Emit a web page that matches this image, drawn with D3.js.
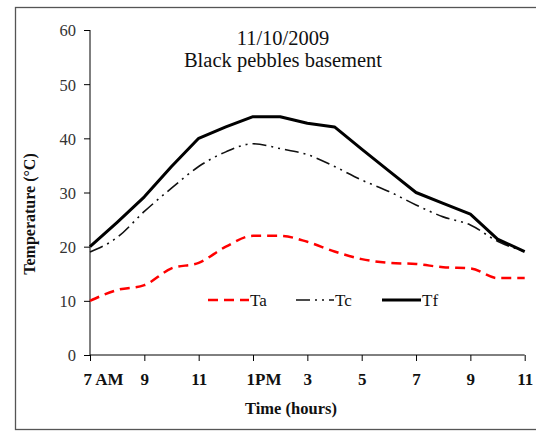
<!DOCTYPE html>
<html>
<head>
<meta charset="utf-8">
<script src="https://cdn.jsdelivr.net/npm/d3@7/dist/d3.min.js"></script>
<style>
html,body{margin:0;padding:0;background:#fff;}
svg{display:block;font-family:"Liberation Serif","Times New Roman",serif;}
</style>
</head>
<body>
<svg id="chart" width="536" height="431"></svg>
<script>
// ---- data ----
const hours = [7,8,9,10,11,12,13,14,15,16,17,18,19,20,21,22,23];
const Ta = [10,12,12.9,16,17,20,22,22,20.9,19.1,17.7,17,16.8,16.2,16,14.2,14.2];
const Tc = [19,21.7,26.5,30.8,34.8,37.5,39,38.1,37,34.8,32.3,30.2,27.7,25.5,24,21,19.1];
const Tf = [20,24.5,29.2,34.8,40,42.1,44,44,42.8,42.1,38,34,30,28,26,21.4,19.1];
const xTickValues = [7,9,11,13,15,17,19,21,23];
const xTickLabels = ["7 AM","9","11","1PM","3","5","7","9","11"];
const yTickValues = [0,10,20,30,40,50,60];
const seriesNames = ["Ta","Tc","Tf"];
const titleLines = ["11/10/2009","Black pebbles basement"];
const xTitle = "Time (hours)";
const yTitle = "Temperature (°C)";

const svg = d3.select("#chart");

// outer frame
svg.append("rect").attr("x",15.5).attr("y",7.5).attr("width",540).attr("height",422)
  .attr("fill","none").attr("stroke","#555").attr("stroke-width",1.3);

const x = d3.scaleLinear().domain([7,23]).range([90,524.7]);
const y = d3.scaleLinear().domain([0,60]).range([355,30]);

// y axis
const yAxis = svg.append("g").attr("transform","translate(90,0)")
  .call(d3.axisLeft(y).tickValues(yTickValues).tickSize(6).tickSizeOuter(0).tickPadding(8));
yAxis.select(".domain").attr("stroke","#000").attr("d","M0,30V355");
yAxis.selectAll(".tick line").attr("stroke","#000");
yAxis.selectAll("text").attr("font-size","16.5px").attr("fill","#333")
  .attr("font-family","Liberation Serif, serif").attr("dy","0.36em");

// x axis
const xAxis = svg.append("g").attr("transform","translate(0,355)")
  .call(d3.axisBottom(x).tickValues(xTickValues).tickSize(6).tickSizeOuter(0)
    .tickFormat((d,i)=>xTickLabels[i]).tickPadding(12));
xAxis.select(".domain").attr("stroke","#000").attr("d","M90,0H524.7");
xAxis.selectAll(".tick line").attr("stroke","#000");
xAxis.selectAll("text").attr("font-size","17px").attr("font-weight","bold").attr("fill","#111")
  .attr("font-family","Liberation Serif, serif")
  .attr("dy","0.71em")
  .each(function(){
    const t = d3.select(this);
    if (/[A-Za-z]/.test(t.text())) t.attr("text-anchor","start").attr("x",-7);
  });

// lines
const pts = arr => hours.map((h,i)=>[h,arr[i]]);
const smooth = d3.line().x(d=>x(d[0])).y(d=>y(d[1])).curve(d3.curveMonotoneX);
const straight = d3.line().x(d=>x(d[0])).y(d=>y(d[1]));

const styles = {
  Ta:{stroke:"#ff0000",width:2.5,dash:"10,6",gen:smooth,data:Ta},
  Tc:{stroke:"#111",width:1.6,dash:"14,5,2,5,2,5",gen:smooth,data:Tc},
  Tf:{stroke:"#000",width:3,dash:null,gen:straight,data:Tf}
};

seriesNames.forEach(n=>{
  const s = styles[n];
  svg.append("path").attr("d",s.gen(pts(s.data))).attr("fill","none")
    .attr("stroke",s.stroke).attr("stroke-width",s.width)
    .attr("stroke-dasharray",s.dash).attr("stroke-linejoin","round");
});

// legend
const legX = {Ta:[208,249],Tc:[296,334],Tf:[382,421]};
seriesNames.forEach(n=>{
  const s = styles[n];
  svg.append("line").attr("x1",legX[n][0]).attr("x2",legX[n][1]).attr("y1",300).attr("y2",300)
    .attr("stroke",s.stroke).attr("stroke-width",s.width).attr("stroke-dasharray",s.dash);
  svg.append("text").attr("x",legX[n][1]+1).attr("y",306).attr("font-size","17px")
    .attr("fill","#111").text(n);
});

// titles
svg.append("text").attr("x",283).attr("y",45).attr("text-anchor","middle")
  .attr("font-size","20.5px").attr("fill","#111").text(titleLines[0]);
svg.append("text").attr("x",283).attr("y",66.5).attr("text-anchor","middle")
  .attr("font-size","20.5px").attr("fill","#111").text(titleLines[1]);

svg.append("text").attr("x",291).attr("y",414).attr("text-anchor","middle")
  .attr("font-size","16.5px").attr("font-weight","bold").attr("fill","#111").text(xTitle);

svg.append("text").attr("transform","translate(35,214) rotate(-90)").attr("text-anchor","middle")
  .attr("font-size","16px").attr("font-weight","bold").attr("fill","#111").text(yTitle);
</script>
</body>
</html>
